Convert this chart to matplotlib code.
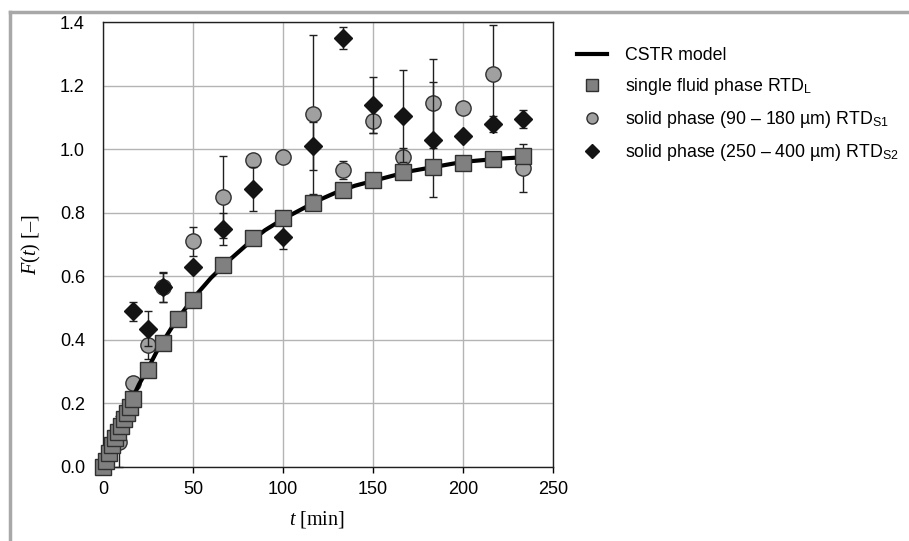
import matplotlib
matplotlib.use("Agg")
import matplotlib.pyplot as plt
from matplotlib.lines import Line2D

plt.rcParams["font.family"] = ["Liberation Sans", "DejaVu Sans"]
plt.rcParams["mathtext.fontset"] = "custom"
plt.rcParams["mathtext.rm"] = "Liberation Serif"
plt.rcParams["mathtext.it"] = "Liberation Serif:italic"
plt.rcParams["mathtext.sf"] = "Liberation Sans"

# CSTR model curve
t_model = [0, 5, 10, 15, 20, 25, 30, 40, 50, 60, 70, 80, 90, 100, 110, 120,
           130, 140, 150, 160, 170, 180, 190, 200, 210, 220, 235]
F_model = [0.0, 0.07, 0.14, 0.20, 0.26, 0.31, 0.365, 0.455, 0.53, 0.595, 0.65,
           0.70, 0.745, 0.78, 0.81, 0.84, 0.865, 0.885, 0.90, 0.915, 0.93, 0.94,
           0.95, 0.96, 0.965, 0.97, 0.975]

# single fluid phase RTD_L
t_L = [0, 1.67, 3.33, 5, 6.67, 8.33, 10, 11.67, 13.33, 15, 16.67, 25, 33.3,
       41.7, 50, 66.7, 83.3, 100, 116.7, 133.3, 150, 166.7, 183.3, 200, 216.7, 233.3]
F_L = [0.0, 0.02, 0.045, 0.07, 0.09, 0.11, 0.13, 0.15, 0.17, 0.19, 0.215, 0.305,
       0.39, 0.465, 0.525, 0.635, 0.72, 0.782, 0.832, 0.871, 0.903, 0.927, 0.944,
       0.958, 0.969, 0.979]

# solid phase (90 - 180 um) RTD_S1
t_S1 = [9, 16.7, 25, 33.3, 50, 66.7, 83.3, 100, 116.7, 133.3, 150, 166.7, 183.3,
        200, 216.7, 233.3]
F_S1 = [0.08, 0.265, 0.385, 0.565, 0.71, 0.85, 0.965, 0.975, 1.11, 0.935, 1.09,
        0.975, 1.145, 1.13, 1.235, 0.94]
err_S1 = [0.08, 0.0, 0.045, 0.045, 0.045, 0.13, 0.0, 0.0, 0.25, 0.028, 0.04,
          0.03, 0.14, 0.01, 0.155, 0.075]

# solid phase (250 - 400 um) RTD_S2
t_S2 = [16.7, 25, 33.3, 50, 66.7, 83.3, 100, 116.7, 133.3, 150, 166.7, 183.3,
        200, 216.7, 233.3]
F_S2 = [0.49, 0.435, 0.565, 0.63, 0.75, 0.875, 0.725, 1.01, 1.35, 1.14, 1.105,
        1.03, 1.04, 1.08, 1.095]
err_S2 = [0.03, 0.055, 0.047, 0.0, 0.05, 0.07, 0.04, 0.075, 0.034, 0.088, 0.145,
          0.18, 0.0, 0.025, 0.027]

x_ticks = [0, 50, 100, 150, 200, 250]
y_ticks = [0.0, 0.2, 0.4, 0.6, 0.8, 1.0, 1.2, 1.4]

fig = plt.figure(figsize=(9.09, 5.41), dpi=100)
ax = fig.add_axes([0.1133, 0.1368, 0.4951, 0.8225])

# gray frame around the figure (top and left edges visible)
frame_col = "#a8a8a8"
fig.add_artist(Line2D([0.0115, 1.0], [0.9770, 0.9770], color=frame_col, lw=2.5,
                      transform=fig.transFigure))
fig.add_artist(Line2D([0.0115, 0.0115], [0.0, 0.9770], color=frame_col, lw=2.5,
                      transform=fig.transFigure))

edge = "#303030"
ax.errorbar(t_S1, F_S1, yerr=err_S1, fmt="o", ms=11, mfc="#a0a0a0", mec=edge,
            mew=1.0, ecolor="#202020", elinewidth=1.0, capsize=3, capthick=1.0,
            zorder=3, clip_on=False)
ax.errorbar(t_S2, F_S2, yerr=err_S2, fmt="D", ms=9.5, mfc="#141414", mec="#141414",
            ecolor="#202020", elinewidth=1.0, capsize=3, capthick=1.0,
            zorder=4, clip_on=False)
ax.plot(t_model, F_model, color="black", lw=3, zorder=5, solid_capstyle="butt")
ax.plot(t_L, F_L, "s", ms=11, mfc="#808080", mec=edge, mew=1.0, zorder=6,
        clip_on=False, ls="none")

ax.set_xlim(0, 250)
ax.set_ylim(0, 1.4)
ax.set_xticks(x_ticks)
ax.set_yticks(y_ticks)
ax.set_yticklabels([f"{v:.1f}" for v in y_ticks])
ax.tick_params(axis="x", direction="out", length=4, width=1, labelsize=13, pad=6)
ax.tick_params(axis="y", length=0, labelsize=13, pad=13)
ax.grid(True, color="#b4b4b4", lw=1.0)
ax.set_axisbelow(True)
for sp in ax.spines.values():
    sp.set_color("#202020")
    sp.set_linewidth(1.0)

ax.set_xlabel("$t$ [min]", fontsize=14.5, family="Liberation Serif")
ax.xaxis.set_label_coords(0.475, -0.095)
ax.set_ylabel("$F(t)$ [–]", fontsize=14.5, family="Liberation Serif", labelpad=12)

handles = [
    Line2D([], [], color="black", lw=3),
    Line2D([], [], marker="s", ls="none", ms=8, mfc="#808080", mec=edge),
    Line2D([], [], marker="o", ls="none", ms=8, mfc="#a0a0a0", mec=edge),
    Line2D([], [], marker="D", ls="none", ms=7, mfc="#141414", mec="#141414"),
]
labels = [
    "CSTR model",
    r"single fluid phase RTD$_{\mathsf{L}}$",
    r"solid phase (90 – 180 µm) RTD$_{\mathsf{S1}}$",
    r"solid phase (250 – 400 µm) RTD$_{\mathsf{S2}}$",
]
fig.legend(handles, labels, loc="upper left", bbox_to_anchor=(0.627, 0.926),
           frameon=False, fontsize=12.8, handlelength=1.7, labelspacing=0.68,
           handletextpad=1.0, borderaxespad=0)

fig.savefig("out.png", dpi=100)
